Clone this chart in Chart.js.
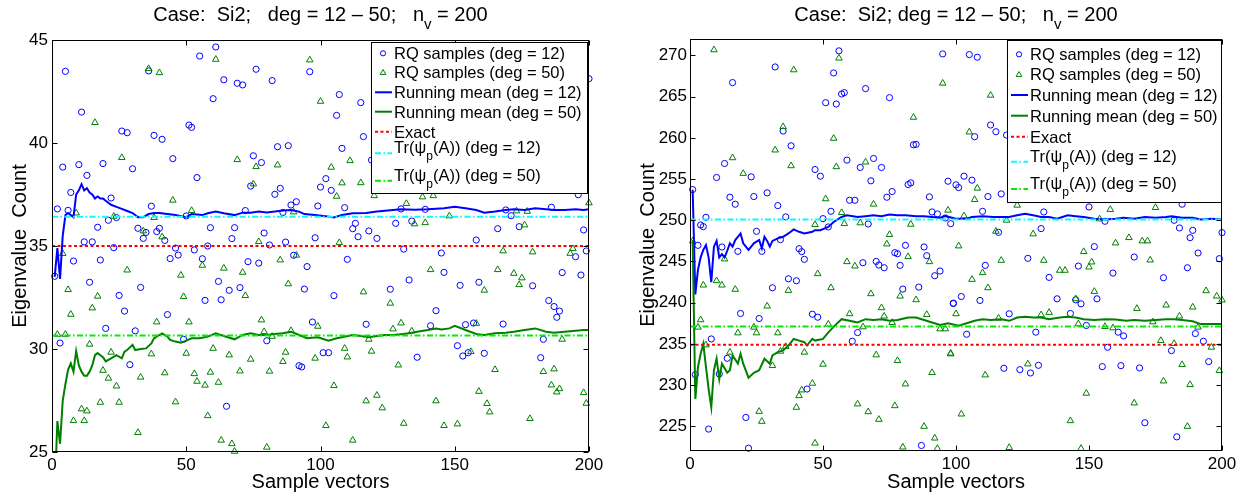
<!DOCTYPE html>
<html>
<head>
<meta charset="utf-8">
<script src="https://cdn.jsdelivr.net/npm/chart.js@4.4.1/dist/chart.umd.min.js"></script>
<style>
  html, body { margin: 0; padding: 0; background: #fff; }
  #wrap { position: relative; width: 1248px; height: 498px; }
  canvas { position: absolute; top: 0; }
</style>
</head>
<body>
<div id="wrap">
  <canvas id="left" width="624" height="498" style="left:0"></canvas>
  <canvas id="right" width="624" height="498" style="left:624px"></canvas>
</div>
<script>
// --- TICKS ---
const xTicks = [0, 50, 100, 150, 200];
const leftYTicks = [25, 30, 35, 40, 45];
const rightYTicks = [225, 230, 235, 240, 245, 250, 255, 260, 265, 270];

// --- LEFT PANEL: [sample index, value] ---
const leftRq12 = [
  [5,43.48],[11,41.5],[26,40.58],[28,40.5],[38,40.37],[41,40.18],[45,39.24],[4,38.83],[10,38.95],[19,39.0],
  [30,38.75],[13,38.43],[7,37.6],[2,36.8],[6,36.73],[22,37.33],[37,36.93],[21,36.25],[24,36.38],[17,35.91],
  [32,35.86],[34,35.37],[35,35.66],[39,35.7],[40,35.86],[42,35.27],[12,35.2],[15,35.2],[23,34.92],[46,34.9],
  [47,34.56],[8,34.27],[18,34.32],[44,34.39],[1,33.53],[14,33.24],[33,32.99],[25,32.6],[27,31.84],[43,31.67],
  [20,31.0],[31,30.88],[3,30.29],[29,29.24],[36,43.5],
  [61,44.66],[55,44.22],[76,43.58],[96,43.46],[64,43.07],[69,42.9],[71,42.82],[82,43.03],[60,42.15],[51,40.87],
  [52,40.76],[84,39.82],[88,39.87],[75,39.38],[78,39.05],[54,38.32],[74,37.91],[85,37.8],[83,37.51],[89,36.99],
  [91,37.15],[72,36.72],[86,36.63],[50,36.46],[59,35.89],[68,35.89],[67,35.36],[79,35.63],[87,35.19],[98,35.4],
  [53,34.81],[58,35.0],[81,35.05],[56,34.38],[73,34.24],[77,34.17],[90,34.55],[95,34.0],[62,33.28],[94,32.91],
  [66,32.85],[70,32.98],[57,32.36],[63,32.39],[97,31.31],[49,30.47],[80,30.4],[92,29.19],[93,29.13],[65,27.22],
  [107,42.35],[115,41.96],[106,41.34],[116,40.31],[108,39.74],[119,39.17],[102,38.27],[100,37.86],[104,37.7],[99,36.94],
  [109,36.86],[130,36.8],[139,36.78],[113,36.1],[112,35.84],[118,35.73],[114,35.45],[121,35.37],[128,36.1],[134,36.21],
  [131,34.85],[145,34.66],[110,34.35],[146,33.72],[133,33.35],[126,32.9],[105,32.59],[143,31.86],[117,31.2],[141,31.13],
  [101,29.82],[103,29.82],[136,29.6],
  [200,43.12],[196,37.49],[186,36.88],[169,36.75],[171,36.47],[166,35.84],[174,35.94],[198,35.78],[158,35.29],[195,34.48],
  [199,34.76],[190,33.71],[197,33.59],[152,33.09],[159,33.24],[179,33.07],[185,32.35],[187,32.06],[189,31.84],[188,31.54],
  [154,31.18],[157,31.26],[168,31.21],[183,30.47],[151,30.16],[153,29.66],[155,29.82],[161,29.79],[182,29.58]
];
const leftRq50 = [
  [36,43.61],[40,43.41],[16,40.99],[26,39.29],[45,37.22],[9,36.6],[23,36.44],[38,36.38],[34,35.73],[41,35.44],
  [4,34.63],[28,33.83],[48,33.58],[6,32.88],[17,32.56],[15,31.99],[7,31.68],[39,31.31],[2,30.71],[5,30.71],
  [14,30.23],[22,29.84],[37,29.76],[19,28.96],[21,28.58],[33,28.63],[42,28.84],[24,28.2],[11,27.09],[13,26.99],
  [18,27.41],[25,27.41],[46,27.43],[8,26.52],[12,26.52],[32,25.94],
  [61,44.06],[96,44.03],[69,39.19],[76,38.85],[84,38.93],[75,38.01],[52,36.72],[90,36.65],[77,35.21],[85,34.32],
  [91,34.55],[56,34.06],[64,33.92],[71,33.72],[88,33.16],[49,32.54],[72,32.59],[51,31.31],[78,31.41],[79,30.84],
  [82,30.61],[89,30.89],[50,29.79],[60,30.03],[66,29.71],[74,29.5],[87,29.84],[86,29.39],[98,29.55],[53,28.8],
  [59,28.87],[70,28.93],[81,28.92],[54,28.43],[57,28.24],[62,28.38],[58,26.76],[63,25.57],[67,25.4],[68,25.03],[80,25.23],
  [100,42.02],[111,39.14],[104,38.82],[108,38.06],[115,38.07],[106,37.41],[132,37.06],[138,37.38],[142,37.44],[120,37.44],
  [135,36.07],[139,36.13],[148,36.46],[107,35.16],[141,33.85],[116,32.77],[126,32.22],[99,31.1],[127,30.97],[130,31.26],
  [134,30.87],[118,30.47],[109,30.03],[119,29.89],[110,29.61],[129,29.22],[105,28.22],[117,27.48],[121,27.75],[123,27.14],
  [143,27.48],[102,26.28],[131,26.39],[146,26.28],[112,25.57],
  [200,37.09],[173,36.7],[177,36.68],[176,36.02],[168,34.76],[179,34.71],[194,34.87],[193,34.64],[166,33.85],[172,33.67],
  [175,33.45],[174,33.12],[161,32.85],[158,31.24],[190,30.47],[156,29.87],[165,29.0],[183,28.9],[187,29.03],[159,27.94],
  [186,28.25],[189,28.07],[188,27.91],[198,27.88],[162,27.35],[163,26.94],[199,27.36],[151,26.36],[178,26.62]
];
const leftMean12 = [
  [1,33.5],[2,34.9],[3,33.4],[4,35.5],[5,36.5],[6,36.6],[7,36.5],[8,36.4],[9,37.5],[10,37.7],
  [11,38.0],[12,37.7],[13,37.8],[14,37.6],[15,37.5],[16,37.3],[17,37.4],[18,37.3],[19,37.3],[20,37.2],
  [22,37.0],[24,36.9],[26,36.8],[28,36.7],[30,36.6],[32,36.4],[34,36.4],[36,36.55],[38,36.6],[40,36.6],
  [43,36.55],[46,36.5],[50,36.4],[52,36.55],[56,36.5],[58,36.59],[61,36.67],[64,36.59],[68,36.5],[71,36.62],
  [74,36.62],[77,36.67],[80,36.63],[83,36.67],[86,36.72],[89,36.75],[92,36.67],[94,36.55],[98,36.5],[102,36.45],
  [105,36.39],[108,36.5],[112,36.59],[117,36.6],[121,36.67],[127,36.75],[130,36.78],[135,36.76],[140,36.78],[146,36.83],
  [150,36.91],[154,36.83],[158,36.75],[161,36.62],[165,36.67],[169,36.75],[172,36.78],[176,36.75],[180,36.83],[184,36.78],
  [187,36.75],[191,36.75],[195,36.78],[198,36.75],[200,36.78]
];
const leftMean50 = [
  [1,23.0],[2,26.5],[3,25.4],[4,27.5],[5,28.3],[6,29.0],[7,29.3],[8,28.9],[9,29.9],[10,29.2],
  [11,28.9],[12,28.7],[13,28.7],[14,28.9],[15,29.2],[16,29.7],[17,29.8],[18,29.7],[19,29.6],[20,29.4],
  [22,29.55],[24,29.7],[26,29.55],[27,29.87],[28,29.95],[30,30.2],[31,29.95],[33,30.0],[35,30.03],[37,30.27],
  [38,30.52],[40,30.68],[41,30.76],[43,30.6],[44,30.44],[46,30.36],[48,30.3],[52,30.52],[55,30.52],[58,30.6],
  [61,30.76],[64,30.63],[68,30.47],[71,30.68],[74,30.76],[77,30.68],[80,30.68],[83,30.73],[86,30.76],[89,30.84],
  [92,30.68],[95,30.52],[99,30.57],[103,30.4],[106,30.52],[108,30.57],[112,30.68],[115,30.63],[118,30.57],[121,30.63],
  [124,30.68],[127,30.68],[130,30.72],[133,30.76],[136,30.84],[140,30.92],[143,31.0],[145,30.95],[148,31.0],[150,31.12],
  [154,30.92],[158,30.73],[161,30.68],[165,30.76],[169,30.79],[172,30.84],[176,30.92],[180,31.0],[184,30.84],[187,30.79],
  [191,30.84],[195,30.89],[198,30.92],[200,30.92]
];
const leftExact = 35.0;
const leftTr12 = 36.42;
const leftTr50 = 30.65;

// --- RIGHT PANEL: [sample index, value] ---
const rightRq12 = [
  [32,268.61],[16,266.71],[35,260.83],[38,259.04],[13,256.89],[10,255.19],[23,255.27],[47,256.16],[1,253.73],[15,252.8],
  [24,252.88],[29,253.33],[17,251.95],[33,251.78],[36,250.41],[6,250.36],[4,249.43],[5,249.23],[25,248.66],[34,247.65],
  [3,246.96],[12,246.76],[18,246.23],[27,246.23],[41,246.55],[42,246.19],[43,245.26],[37,242.9],[40,242.66],[31,241.81],
  [19,238.69],[26,238.08],[46,238.6],[48,238.24],[8,235.6],[14,233.25],[11,231.35],[2,231.27],[44,229.52],[21,226.07],
  [7,224.66],[22,222.34],
  [56,270.56],[95,270.19],[54,267.88],[66,265.98],[75,264.88],[57,265.33],[58,265.49],[51,264.27],[55,264.11],[84,259.16],
  [85,259.21],[49,255.35],[59,257.3],[69,257.5],[64,256.41],[72,256.41],[68,254.79],[82,254.34],[83,254.54],[97,254.74],
  [76,253.49],[74,252.8],[90,252.84],[60,252.43],[62,252.43],[53,251.09],[91,251.01],[93,250.77],[50,250.2],[52,249.19],
  [67,249.55],[96,250.28],[81,246.96],[88,246.76],[77,246.07],[78,245.94],[89,245.7],[65,244.85],[70,245.01],[71,244.57],
  [73,244.24],[79,244.53],[94,243.84],[92,243.27],[80,241.65],[86,241.89],[99,239.94],[63,236.37],[61,235.32],[87,222.67],
  [105,270.11],[108,269.79],[113,261.56],[115,260.75],[107,260.14],[119,260.34],[103,255.35],[106,254.87],[100,254.3],[101,253.97],
  [112,252.88],[117,253.2],[110,251.09],[133,251.01],[98,249.59],[116,248.54],[132,248.99],[127,245.38],[146,244.44],[111,244.53],
  [135,243.07],[99,239.9],[102,240.75],[109,240.27],[138,240.47],[145,240.35],[147,239.86],[120,238.65],[143,238.69],[104,236.17],
  [130,236.42],[149,237.23],[118,232.04],[124,231.87],[128,231.47],[131,232.4],
  [150,251.62],[185,251.95],[156,249.88],[182,250.0],[184,249.07],[189,248.78],[188,247.89],[200,248.5],[152,246.8],[167,245.54],
  [191,246.03],[199,245.34],[159,243.59],[187,244.24],[178,243.03],[153,240.47],[161,236.42],[163,235.97],[190,236.25],[193,235.32],
  [157,234.59],[181,234.18],[195,232.85],[155,232.24],[162,232.36],[169,232.08],[171,225.43],[183,223.72]
];
const rightRq50 = [
  [9,270.68],[39,268.25],[35,261.35],[32,258.52],[16,257.58],[38,256.61],[20,255.68],[1,247.49],[47,249.47],[13,245.3],
  [48,243.51],[10,242.66],[12,242.13],[5,242.13],[17,241.61],[37,241.48],[29,239.58],[4,237.92],[3,237.02],[24,237.02],
  [18,236.33],[25,236.33],[33,236.33],[6,234.87],[15,233.98],[34,234.1],[36,234.67],[43,233.98],[31,232.36],[46,230.21],
  [42,229.4],[41,228.71],[40,227.29],[26,226.8],[27,225.59],[47,222.95],
  [56,269.67],[95,266.63],[84,262.49],[54,259.94],[55,256.49],[66,257.06],[51,252.6],[69,251.95],[97,251.22],[57,250.93],
  [58,249.59],[64,249.68],[83,249.51],[75,248.26],[74,247.12],[82,245.58],[90,244.97],[59,244.97],[62,244.44],[53,241.81],
  [68,241.08],[79,240.79],[85,240.35],[72,239.38],[60,238.65],[73,238.36],[89,238.56],[52,237.39],[76,237.59],[65,237.06],
  [94,236.82],[96,236.82],[70,233.66],[98,233.78],[78,232.97],[50,232.52],[91,231.51],[81,230.13],[63,227.7],[67,226.76],
  [77,227.49],[71,225.83],[88,224.98],[92,223.56],[80,222.47],[93,222.3],
  [113,265.17],[105,260.71],[108,253.89],[107,252.51],[123,251.82],[103,250.53],[119,250.0],[115,248.66],[129,248.34],[101,246.88],
  [148,246.19],[150,244.32],[117,245.13],[133,245.13],[139,243.92],[141,243.92],[106,242.82],[110,243.63],[112,241.81],[145,240.47],
  [100,238.65],[116,238.12],[132,238.52],[135,238.81],[146,237.43],[98,233.86],[111,231.22],[127,232.56],[149,229.0],[102,226.48],
  [143,225.67],[120,222.42],[147,222.3],
  [158,251.3],[175,251.54],[154,250.16],[160,247.24],[165,247.89],[170,247.49],[172,247.49],[151,244.93],[173,245.17],[152,241.36],
  [194,241.44],[198,240.79],[200,240.31],[179,239.7],[189,239.46],[168,239.29],[184,238.36],[174,237.67],[156,237.1],[159,236.94],
  [191,237.02],[177,235.4],[182,235.04],[196,234.59],[199,231.75],[185,232.48],[178,230.49],[188,230.05],[167,227.82],[187,224.98]
];
const rightMean12 = [
  [1,253.7],[2,241.0],[3,244.0],[4,245.5],[5,246.4],[6,247.0],[7,245.5],[8,242.5],[9,246.8],[10,247.5],
  [11,245.5],[12,245.9],[13,245.5],[14,246.3],[15,247.2],[16,246.8],[17,247.6],[18,248.0],[19,248.4],[20,247.2],
  [21,246.8],[22,246.4],[23,246.8],[24,247.2],[25,247.4],[26,247.6],[27,246.6],[28,248.0],[29,247.5],[30,246.8],
  [31,247.5],[33,247.8],[35,248.0],[37,248.4],[39,248.9],[41,248.6],[43,248.4],[46,248.6],[47,248.8],[49,248.8],
  [52,249.2],[54,249.8],[57,250.4],[59,250.6],[63,250.4],[66,250.5],[69,250.6],[72,250.5],[75,250.7],[78,250.6],
  [81,250.6],[85,250.5],[88,250.5],[91,250.4],[94,250.3],[96,250.5],[100,250.2],[104,250.2],[106,250.4],[110,250.5],
  [114,250.4],[117,250.4],[120,250.4],[123,250.6],[126,250.8],[129,250.6],[132,250.4],[135,250.4],[138,250.2],[142,250.6],
  [145,250.5],[148,250.4],[152,250.2],[156,250.1],[160,250.2],[163,250.3],[167,250.2],[171,250.4],[175,250.3],[179,250.4],
  [181,250.5],[185,250.3],[189,250.3],[192,250.1],[196,250.2],[200,250.1]
];
const rightMean50 = [
  [1,247.6],[2,228.3],[3,232.2],[4,233.8],[5,235.0],[6,232.2],[7,229.5],[8,227.3],[9,231.8],[10,233.2],
  [11,230.7],[12,232.6],[14,231.5],[15,231.8],[16,233.6],[18,232.6],[19,233.8],[20,232.6],[22,230.9],[24,231.5],
  [26,231.8],[28,233.2],[30,232.6],[31,233.6],[33,234.0],[35,234.2],[37,234.8],[39,235.6],[41,235.4],[43,235.2],
  [44,234.8],[46,235.6],[47,235.4],[50,235.6],[52,236.4],[55,237.4],[57,238.0],[60,237.8],[63,237.6],[66,238.0],
  [69,237.9],[72,238.0],[75,237.8],[78,237.9],[82,238.2],[85,238.2],[88,237.9],[91,237.6],[94,237.3],[97,237.5],
  [101,237.2],[104,237.5],[107,237.8],[110,238.0],[113,237.9],[117,238.0],[120,237.8],[123,238.2],[126,238.3],[129,238.2],
  [132,238.2],[135,238.0],[139,238.2],[142,238.3],[145,238.2],[148,238.0],[152,237.9],[156,238.0],[160,237.96],[164,237.8],
  [167,237.9],[171,237.8],[175,237.9],[179,238.0],[182,238.0],[185,237.9],[189,237.75],[192,237.4],[196,237.4],[200,237.4]
];
const rightExact = 234.9;
const rightTr12 = 250.1;
const rightTr50 = 237.1;

// --- TEXT ---
const legendLabels = [
  [['RQ samples (deg = 12)']],
  [['RQ samples (deg = 50)']],
  [['Running mean (deg = 12)']],
  [['Running mean (deg = 50)']],
  [['Exact']],
  [['Tr(\u03c8'], ['p', true], ['(A)) (deg = 12)']],
  [['Tr(\u03c8'], ['p', true], ['(A)) (deg = 50)']]
];
const leftTitle = [['Case:  Si2;   deg = 12 \u2013 50;   n'], ['v', true], [' = 200']];
const rightTitle = [['Case:  Si2; deg = 12 \u2013 50;   n'], ['v', true], [' = 200']];
const xTitle = 'Sample vectors';
const yTitle = 'Eigenvalue  Count';

// --- STYLES ---
const FONT = '"Liberation Sans", Arial, Helvetica, sans-serif';
const BLUE = '#0000ff';
const DKGREEN = '#008000';
const RED = '#ff0000';
const CYAN = '#00ffff';
const LTGREEN = '#00ee00';
const DOT = [3, 2.5];
const DASHDOT = [6, 2.5, 1.5, 2.5];

const legendStyles = [
  { marker: 'circle', color: BLUE },
  { marker: 'triangle', color: DKGREEN },
  { color: BLUE, dash: [] },
  { color: DKGREEN, dash: [] },
  { color: RED, dash: DOT },
  { color: CYAN, dash: DASHDOT, textShift: -6 },
  { color: LTGREEN, dash: DASHDOT, textShift: -6 }
];

const toPts = (pairs) => pairs.map(([x, y]) => ({ x, y }));
const hline = (v) => [{ x: 0, y: v }, { x: 200, y: v }];

// draw a run of text pieces, some as subscripts; returns the width
const drawParts = (ctx, parts, x, y, size, measureOnly) => {
  let cx = x;
  parts.forEach(([txt, sub]) => {
    const fs = sub ? Math.round(size * 0.75) : size;
    ctx.font = `${fs}px ${FONT}`;
    if (!measureOnly) ctx.fillText(txt, cx, sub ? y + size * 0.42 : y);
    cx += ctx.measureText(txt).width;
  });
  return cx - x;
};

const drawTriangle = (ctx, x, y, r) => {
  ctx.beginPath();
  for (let i = 0; i < 3; i++) {
    const a = i * 2 * Math.PI / 3;
    const px = x + Math.sin(a) * r, py = y - Math.cos(a) * r;
    if (i === 0) ctx.moveTo(px, py); else ctx.lineTo(px, py);
  }
  ctx.closePath();
  ctx.stroke();
};

// --- MATLAB-LIKE DECORATIONS: frame, inward ticks, titles, legend ---
const decorPlugin = {
  id: 'decor',
  afterDraw(chart) {
    const { ctx, chartArea: a, scales } = chart;
    const lay = chart.options.plugins.decor;
    ctx.save();

    // frame
    ctx.strokeStyle = '#000';
    ctx.lineWidth = 1;
    ctx.setLineDash([]);
    const L = Math.round(a.left) + 0.5, R = Math.round(a.right) - 0.5;
    const T = Math.round(a.top) + 0.5, B = Math.round(a.bottom) - 0.5;
    ctx.strokeRect(L, T, R - L, B - T);

    // inward ticks on all four sides
    const tl = 5;
    ctx.beginPath();
    scales.x.ticks.forEach(t => {
      const px = Math.round(scales.x.getPixelForValue(t.value)) + 0.5;
      ctx.moveTo(px, B); ctx.lineTo(px, B - tl);
      ctx.moveTo(px, T); ctx.lineTo(px, T + tl);
    });
    scales.y.ticks.forEach(t => {
      const py = Math.round(scales.y.getPixelForValue(t.value)) + 0.5;
      ctx.moveTo(L, py); ctx.lineTo(L + tl, py);
      ctx.moveTo(R, py); ctx.lineTo(R - tl, py);
    });
    ctx.stroke();

    // titles
    ctx.fillStyle = '#000';
    ctx.textBaseline = 'alphabetic';
    const cx = (a.left + a.right) / 2;
    const tw = drawParts(ctx, lay.title, 0, 0, 20, true);
    drawParts(ctx, lay.title, cx - tw / 2, 20.5, 20);
    ctx.font = `20px ${FONT}`;
    ctx.textAlign = 'center';
    ctx.fillText(xTitle, cx, 488);
    ctx.save();
    ctx.translate(lay.yTitleX, (a.top + a.bottom) / 2);
    ctx.rotate(-Math.PI / 2);
    ctx.textBaseline = 'middle';
    ctx.fillText(yTitle, 0, 0);
    ctx.restore();
    ctx.textAlign = 'left';

    // legend box
    const bx = lay.legend;
    ctx.fillStyle = '#fff';
    ctx.fillRect(bx.x, bx.y, bx.w, bx.h);
    ctx.strokeStyle = '#000';
    ctx.lineWidth = 1;
    ctx.strokeRect(bx.x + 0.5, bx.y + 0.5, bx.w - 1, bx.h - 1);

    legendLabels.forEach((parts, i) => {
      const st = legendStyles[i];
      const sy = bx.y + lay.rowY[i];
      ctx.strokeStyle = st.color;
      if (st.marker === 'circle') {
        ctx.lineWidth = 1;
        ctx.setLineDash([]);
        ctx.beginPath();
        ctx.arc(bx.x + 12, sy, 2.6, 0, Math.PI * 2);
        ctx.stroke();
      } else if (st.marker === 'triangle') {
        ctx.lineWidth = 1;
        ctx.setLineDash([]);
        drawTriangle(ctx, bx.x + 12, sy + 0.5, 3.3);
      } else {
        ctx.lineWidth = 2;
        ctx.setLineDash(st.dash);
        ctx.beginPath();
        ctx.moveTo(bx.x + 4, sy);
        ctx.lineTo(bx.x + 21, sy);
        ctx.stroke();
      }
      ctx.setLineDash([]);
      ctx.fillStyle = '#000';
      drawParts(ctx, parts, bx.x + 23, sy + 6 + (st.textShift || 0), 16.5);
    });
    ctx.restore();
  }
};

const buildChart = (canvasId, p) => {
  const datasets = [
    { data: hline(p.tr50), showLine: true, borderColor: LTGREEN, borderWidth: 2, borderDash: DASHDOT, pointRadius: 0 },
    { data: hline(p.tr12), showLine: true, borderColor: CYAN, borderWidth: 2, borderDash: DASHDOT, pointRadius: 0 },
    { data: hline(p.exact), showLine: true, borderColor: RED, borderWidth: 2, borderDash: DOT, pointRadius: 0 },
    { data: toPts(p.mean50), showLine: true, borderColor: DKGREEN, borderWidth: 2, pointRadius: 0, tension: 0 },
    { data: toPts(p.mean12), showLine: true, borderColor: BLUE, borderWidth: 2, pointRadius: 0, tension: 0 },
    { data: toPts(p.rq50), pointStyle: 'triangle', pointRadius: 3.8, borderColor: DKGREEN, borderWidth: 1,
      backgroundColor: 'rgba(0,0,0,0)', clip: false },
    { data: toPts(p.rq12), pointStyle: 'circle', pointRadius: 3.1, borderColor: BLUE, borderWidth: 1,
      backgroundColor: 'rgba(0,0,0,0)', clip: false }
  ];

  return new Chart(document.getElementById(canvasId), {
    type: 'scatter',
    data: { datasets },
    options: {
      responsive: false,
      animation: false,
      events: [],
      layout: { padding: { top: p.padTop, right: p.padRight, left: 0, bottom: 0 } },
      scales: {
        x: {
          min: 0, max: 200,
          afterBuildTicks: s => { s.ticks = xTicks.map(v => ({ value: v })); },
          afterFit: s => { s.height = p.xAxisHeight; },
          grid: { display: false, drawTicks: false },
          border: { display: false },
          ticks: { color: '#000', padding: 3, maxRotation: 0, font: { family: FONT, size: 17 } }
        },
        y: {
          min: p.yMin, max: p.yMax,
          afterBuildTicks: s => { s.ticks = p.yTicks.map(v => ({ value: v })); },
          afterFit: s => { s.width = p.yAxisWidth; },
          grid: { display: false, drawTicks: false },
          border: { display: false },
          ticks: { color: '#000', padding: p.yTickPad, font: { family: FONT, size: 17 } }
        }
      },
      plugins: {
        legend: { display: false },
        tooltip: { enabled: false },
        decor: {
          title: p.title,
          yTitleX: p.yTitleX,
          legend: p.legendBox,
          rowY: p.rowY
        }
      }
    },
    plugins: [decorPlugin]
  });
};

buildChart('left', {
  rq12: leftRq12, rq50: leftRq50, mean12: leftMean12, mean50: leftMean50,
  exact: leftExact, tr12: leftTr12, tr50: leftTr50,
  yMin: 25, yMax: 45, yTicks: leftYTicks,
  yAxisWidth: 52, yTickPad: 4, padTop: 40, padRight: 35, xAxisHeight: 46,
  title: leftTitle, yTitleX: 20,
  legendBox: { x: 371, y: 42, w: 217, h: 152 },
  rowY: [11.3, 30.3, 50.3, 69.7, 89.7, 111.3, 138.7]
});

buildChart('right', {
  rq12: rightRq12, rq50: rightRq50, mean12: rightMean12, mean50: rightMean50,
  exact: rightExact, tr12: rightTr12, tr50: rightTr50,
  yMin: 222, yMax: 272, yTicks: rightYTicks,
  yAxisWidth: 66, yTickPad: 3, padTop: 39, padRight: 26, xAxisHeight: 47,
  title: rightTitle, yTitleX: 24,
  legendBox: { x: 383, y: 40, w: 215, h: 163 },
  rowY: [14.3, 34.3, 55, 75.7, 96.7, 121.7, 149]
});
</script>
</body>
</html>
